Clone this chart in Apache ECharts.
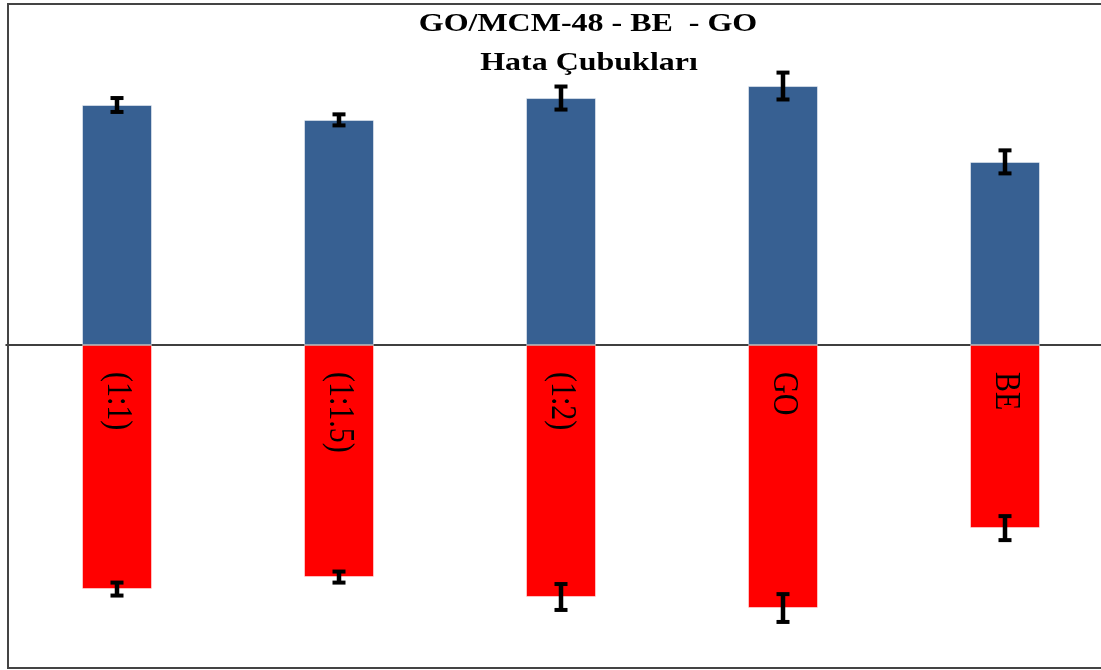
<!DOCTYPE html>
<html>
<head>
<meta charset="utf-8">
<script src="https://cdn.jsdelivr.net/npm/echarts@6/dist/echarts.min.js"></script>
<style>
  html, body { margin: 0; padding: 0; background: #fff; }
  #chart { width: 1101px; height: 670px; }
</style>
</head>
<body>
<div id="chart"></div>
<script>
// Sample groups
const categories = ['(1:1)', '(1:1.5)', '(1:2)', 'GO', 'BE'];
// Upper (blue) bars and their error half-widths
const upperValues = [100, 93.8, 102.9, 107.9, 76.3];
const upperErrors = [2.9, 2.3, 4.8, 5.6, 4.8];
// Lower (red) bars and their error half-widths
const lowerValues = [-101.7, -96.7, -105, -109.6, -76.3];
const lowerErrors = [2.7, 2.3, 5.4, 5.8, 5.0];

const titleLine1 = 'GO/MCM-48 - BE  - GO';
const titleLine2 = 'Hata Çubukları';

const errorData = [];
categories.forEach((c, i) => {
  errorData.push([i, upperValues[i] - upperErrors[i], upperValues[i] + upperErrors[i]]);
  errorData.push([i, lowerValues[i] - lowerErrors[i], lowerValues[i] + lowerErrors[i]]);
});

// I-beam error bar: stem between low and high, short caps at both ends
function renderErrorBar(params, api) {
  const idx = api.value(0);
  const pLo = api.coord([idx, api.value(1)]);
  const pHi = api.coord([idx, api.value(2)]);
  const x = pLo[0];
  const hw = 6.5;
  const stem = { stroke: '#000', lineWidth: 4.5 };
  const cap = { stroke: '#000', lineWidth: 4 };
  return {
    type: 'group',
    children: [
      { type: 'line', shape: { x1: x, y1: pLo[1], x2: x, y2: pHi[1] }, style: stem },
      { type: 'line', shape: { x1: x - hw, y1: pLo[1], x2: x + hw, y2: pLo[1] }, style: cap },
      { type: 'line', shape: { x1: x - hw, y1: pHi[1], x2: x + hw, y2: pHi[1] }, style: cap }
    ]
  };
}

const serif = '"Liberation Serif", "Times New Roman", serif';

// Category names written downward just below the zero line, inside the red bars
function renderCategoryLabel(params, api) {
  const p = api.coord([api.value(0), 0]);
  return {
    type: 'text',
    x: p[0],
    y: p[1] + 27,
    rotation: -Math.PI / 2,
    scaleY: 1.2,
    style: {
      text: categories[params.dataIndex],
      align: 'left',
      verticalAlign: 'middle',
      fontFamily: serif,
      fontSize: 30,
      fill: '#000'
    }
  };
}

const chart = echarts.init(document.getElementById('chart'), null, { renderer: 'canvas' });
chart.setOption({
  animation: false,
  backgroundColor: '#ffffff',
  grid: { left: 6, top: 0, width: 1110, height: 670, containLabel: false, outerBoundsMode: 'none' },
  xAxis: {
    type: 'category',
    data: categories,
    axisTick: { show: false },
    axisLine: { onZero: true, lineStyle: { color: '#000', width: 1.5 } },
    axisLabel: { show: false },
    splitLine: { show: false }
  },
  yAxis: {
    type: 'value',
    min: -135.42,
    max: 143.75,
    show: false,
    splitLine: { show: false }
  },
  series: [
    {
      type: 'bar',
      stack: 'all',
      barWidth: 70,
      data: upperValues,
      itemStyle: { color: '#376092', borderColor: 'rgba(255,255,255,0.5)', borderWidth: 1 },
      z: 2
    },
    {
      type: 'bar',
      stack: 'all',
      barWidth: 70,
      data: lowerValues,
      itemStyle: { color: '#ff0000', borderColor: 'rgba(255,255,255,0.5)', borderWidth: 1 },
      z: 2
    },
    {
      type: 'custom',
      data: errorData,
      encode: { x: 0, y: [1, 2] },
      renderItem: renderErrorBar,
      z: 5
    },
    {
      type: 'custom',
      data: categories.map((c, i) => [i, 0]),
      encode: { x: 0, y: 1 },
      renderItem: renderCategoryLabel,
      silent: true,
      z: 6
    }
  ],
  graphic: [
    {
      type: 'rect',
      shape: { x: 8, y: 4, width: 1200, height: 664 },
      style: { fill: null, stroke: '#444', lineWidth: 2 },
      z: 100
    },
    {
      type: 'text',
      x: 588, y: 24,
      scaleX: 1.23,
      style: {
        text: titleLine1,
        align: 'center', verticalAlign: 'middle',
        fontFamily: serif, fontWeight: 'bold', fontSize: 26, fill: '#000'
      },
      z: 100
    },
    {
      type: 'text',
      x: 589, y: 63,
      scaleX: 1.23,
      style: {
        text: titleLine2,
        align: 'center', verticalAlign: 'middle',
        fontFamily: serif, fontWeight: 'bold', fontSize: 26, fill: '#000'
      },
      z: 100
    }
  ]
});
</script>
</body>
</html>
